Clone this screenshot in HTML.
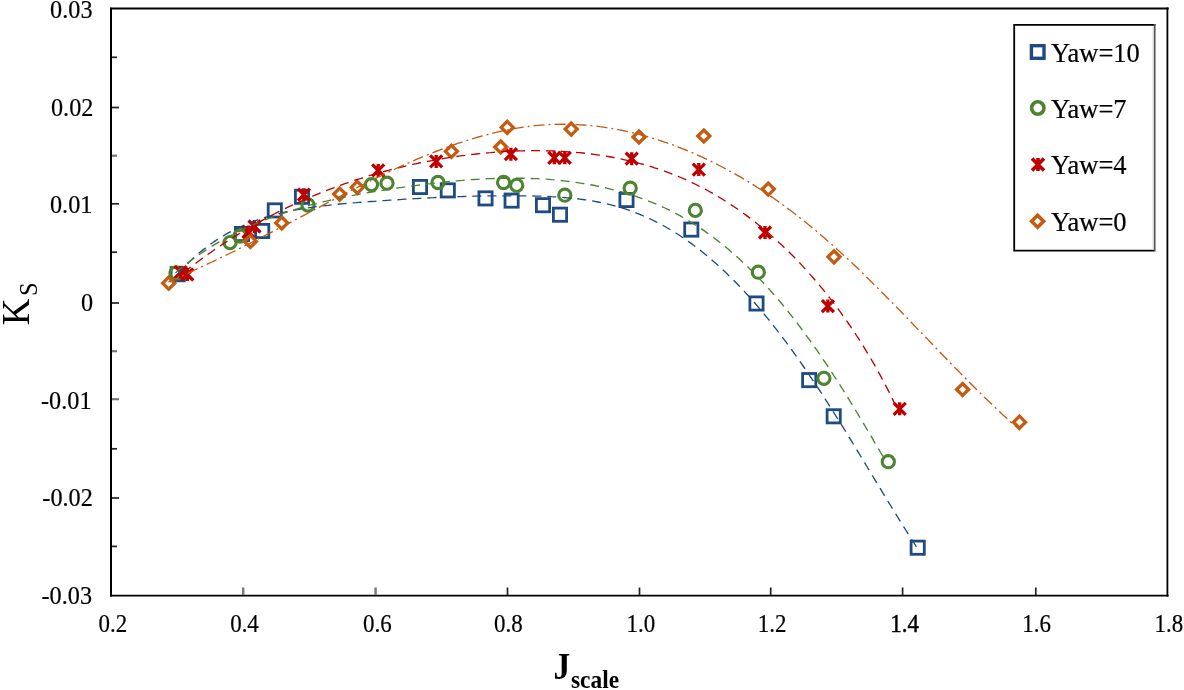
<!DOCTYPE html>
<html><head><meta charset="utf-8"><style>
html,body{margin:0;padding:0;background:#fff;width:1184px;height:690px;overflow:hidden}
svg{display:block;filter:blur(0.4px)}
</style></head><body>
<svg width="1184" height="690" viewBox="0 0 1184 690">
<rect width="1184" height="690" fill="#fff"/>

<g fill="none" stroke="#000">
<line x1="111" y1="7.8" x2="111" y2="596.6" stroke-width="2"/>
<line x1="110" y1="8.5" x2="1168.7" y2="8.5" stroke-width="1.8"/>
<line x1="110" y1="595.6" x2="1168.7" y2="595.6" stroke-width="1.9"/>
<line x1="1167.4" y1="7.6" x2="1167.4" y2="596.5" stroke-width="1.8"/>
</g>
<g stroke="#222" stroke-width="1.7">
<line x1="112" y1="57.3" x2="117" y2="57.3"/>
<line x1="112" y1="107.5" x2="119" y2="107.5"/>
<line x1="112" y1="155.7" x2="117" y2="155.7" stroke="#777" stroke-width="2.2"/>
<line x1="112" y1="203.8" x2="119" y2="203.8"/>
<line x1="112" y1="252.2" x2="117" y2="252.2"/>
<line x1="112" y1="303.0" x2="119" y2="303.0"/>
<line x1="112" y1="351.2" x2="117" y2="351.2" stroke="#777" stroke-width="2.2"/>
<line x1="112" y1="399.2" x2="119" y2="399.2" stroke="#777" stroke-width="2.2"/>
<line x1="112" y1="448.8" x2="117" y2="448.8"/>
<line x1="112" y1="498.0" x2="119" y2="498.0"/>
<line x1="112" y1="546.4" x2="117" y2="546.4"/>
<line x1="243.2" y1="595" x2="243.2" y2="587.5" stroke="#777" stroke-width="2.4"/>
<line x1="375.6" y1="595" x2="375.6" y2="587.5" stroke="#777" stroke-width="2.4"/>
<line x1="507.5" y1="595" x2="507.5" y2="587.5"/>
<line x1="639.5" y1="595" x2="639.5" y2="587.5"/>
<line x1="770.7" y1="595" x2="770.7" y2="587.5"/>
<line x1="902.6" y1="595" x2="902.6" y2="587.5"/>
<line x1="1035.8" y1="595" x2="1035.8" y2="587.5"/>
</g>
<g font-family="Liberation Serif" font-size="25.5" text-anchor="end" fill="#000" stroke="#000" stroke-width="0.2">
<text x="0" y="0" transform="translate(92.5 9.2) scale(0.95 1)" dy="8.6">0.03</text>
<text x="0" y="0" transform="translate(93.4 107.0) scale(0.95 1)" dy="8.6">0.02</text>
<text x="0" y="0" transform="translate(92.4 204.7) scale(0.95 1)" dy="8.6">0.01</text>
<text x="0" y="0" transform="translate(93.0 302.4) scale(0.95 1)" dy="8.6">0</text>
<text x="0" y="0" transform="translate(91.5 400.0) scale(0.95 1)" dy="8.6">-0.01</text>
<text x="0" y="0" transform="translate(92.8 497.8) scale(0.95 1)" dy="8.6">-0.02</text>
<text x="0" y="0" transform="translate(92.0 595.4) scale(0.95 1)" dy="8.6">-0.03</text>
</g>
<g font-family="Liberation Serif" font-size="25.5" text-anchor="middle" fill="#000" stroke="#000" stroke-width="0.2">
<text x="0" y="0" transform="translate(112.8 632) scale(0.9 1)">0.2</text>
<text x="0" y="0" transform="translate(244.5 632) scale(0.9 1)">0.4</text>
<text x="0" y="0" transform="translate(377.4 632) scale(0.9 1)">0.6</text>
<text x="0" y="0" transform="translate(508.4 632) scale(0.9 1)">0.8</text>
<text x="0" y="0" transform="translate(640.9 632) scale(0.9 1)">1.0</text>
<text x="0" y="0" transform="translate(772.2 632) scale(0.9 1)">1.2</text>
<text x="0" y="0" transform="translate(904.6 632) scale(0.9 1)" stroke-width="0.5">1.4</text>
<text x="0" y="0" transform="translate(1036.6 632) scale(0.9 1)">1.6</text>
<text x="0" y="0" transform="translate(1168.9 632) scale(0.9 1)">1.8</text>
</g>
<text font-family="Liberation Serif" font-size="39" transform="translate(28.6 325.3) rotate(-90) scale(0.95 1)">K</text>
<text font-family="Liberation Serif" font-size="24.5" transform="translate(37.2 296) rotate(-90)">S</text>
<text font-family="Liberation Serif" font-size="38" font-weight="bold" transform="translate(553.5 679) scale(0.88 1)">J</text>
<text font-family="Liberation Serif" font-size="26" font-weight="bold" transform="translate(571 688) scale(0.9 1)">scale</text>
<g>
<rect x="171.1" y="267.6" width="13.2" height="13.2" fill="none" stroke="#1e4b80" stroke-width="2.8"/>
<rect x="235.4" y="227.4" width="13.2" height="13.2" fill="none" stroke="#1e4b80" stroke-width="2.8"/>
<rect x="255.6" y="224.4" width="13.2" height="13.2" fill="none" stroke="#1e4b80" stroke-width="2.8"/>
<rect x="268.2" y="203.8" width="13.2" height="13.2" fill="none" stroke="#1e4b80" stroke-width="2.8"/>
<rect x="295.4" y="190.2" width="13.2" height="13.2" fill="none" stroke="#1e4b80" stroke-width="2.8"/>
<rect x="413.4" y="180.4" width="13.2" height="13.2" fill="none" stroke="#1e4b80" stroke-width="2.8"/>
<rect x="441.2" y="183.8" width="13.2" height="13.2" fill="none" stroke="#1e4b80" stroke-width="2.8"/>
<rect x="478.9" y="191.8" width="13.2" height="13.2" fill="none" stroke="#1e4b80" stroke-width="2.8"/>
<rect x="505.0" y="194.0" width="13.2" height="13.2" fill="none" stroke="#1e4b80" stroke-width="2.8"/>
<rect x="536.4" y="198.6" width="13.2" height="13.2" fill="none" stroke="#1e4b80" stroke-width="2.8"/>
<rect x="553.4" y="208.1" width="13.2" height="13.2" fill="none" stroke="#1e4b80" stroke-width="2.8"/>
<rect x="619.9" y="193.4" width="13.2" height="13.2" fill="none" stroke="#1e4b80" stroke-width="2.8"/>
<rect x="684.7" y="223.0" width="13.2" height="13.2" fill="none" stroke="#1e4b80" stroke-width="2.8"/>
<rect x="749.9" y="296.9" width="13.2" height="13.2" fill="none" stroke="#1e4b80" stroke-width="2.8"/>
<rect x="802.6" y="373.5" width="13.2" height="13.2" fill="none" stroke="#1e4b80" stroke-width="2.8"/>
<rect x="827.1" y="409.7" width="13.2" height="13.2" fill="none" stroke="#1e4b80" stroke-width="2.8"/>
<rect x="911.1" y="541.1" width="13.2" height="13.2" fill="none" stroke="#1e4b80" stroke-width="2.8"/>
<circle cx="176.0" cy="273.0" r="6.1" fill="none" stroke="#4c8430" stroke-width="3.1"/>
<circle cx="230.0" cy="242.6" r="6.1" fill="none" stroke="#4c8430" stroke-width="3.1"/>
<circle cx="240.0" cy="236.0" r="6.1" fill="none" stroke="#4c8430" stroke-width="3.1"/>
<circle cx="308.0" cy="205.0" r="6.1" fill="none" stroke="#4c8430" stroke-width="3.1"/>
<circle cx="371.5" cy="184.6" r="6.1" fill="none" stroke="#4c8430" stroke-width="3.1"/>
<circle cx="387.0" cy="183.2" r="6.1" fill="none" stroke="#4c8430" stroke-width="3.1"/>
<circle cx="438.0" cy="182.5" r="6.1" fill="none" stroke="#4c8430" stroke-width="3.1"/>
<circle cx="503.6" cy="182.5" r="6.1" fill="none" stroke="#4c8430" stroke-width="3.1"/>
<circle cx="516.7" cy="185.4" r="6.1" fill="none" stroke="#4c8430" stroke-width="3.1"/>
<circle cx="564.8" cy="195.2" r="6.1" fill="none" stroke="#4c8430" stroke-width="3.1"/>
<circle cx="630.2" cy="188.2" r="6.1" fill="none" stroke="#4c8430" stroke-width="3.1"/>
<circle cx="695.3" cy="210.4" r="6.1" fill="none" stroke="#4c8430" stroke-width="3.1"/>
<circle cx="758.3" cy="272.2" r="6.1" fill="none" stroke="#4c8430" stroke-width="3.1"/>
<circle cx="823.9" cy="378.3" r="6.1" fill="none" stroke="#4c8430" stroke-width="3.1"/>
<circle cx="888.3" cy="461.7" r="6.1" fill="none" stroke="#4c8430" stroke-width="3.1"/>
<path d="M174.8 266.2L186.8 278.2M186.8 266.2L174.8 278.2M180.8 265.7L180.8 278.7" stroke="#c00000" stroke-width="3.3" fill="none"/>
<path d="M181.3 268.5L193.3 280.5M193.3 268.5L181.3 280.5M187.3 268.0L187.3 281.0" stroke="#c00000" stroke-width="3.3" fill="none"/>
<path d="M242.5 226.0L254.5 238.0M254.5 226.0L242.5 238.0M248.5 225.5L248.5 238.5" stroke="#c00000" stroke-width="3.3" fill="none"/>
<path d="M248.5 220.5L260.5 232.5M260.5 220.5L248.5 232.5M254.5 220.0L254.5 233.0" stroke="#c00000" stroke-width="3.3" fill="none"/>
<path d="M297.9 188.7L309.9 200.7M309.9 188.7L297.9 200.7M303.9 188.2L303.9 201.2" stroke="#c00000" stroke-width="3.3" fill="none"/>
<path d="M372.2 164.4L384.2 176.4M384.2 164.4L372.2 176.4M378.2 163.9L378.2 176.9" stroke="#c00000" stroke-width="3.3" fill="none"/>
<path d="M430.2 155.4L442.2 167.4M442.2 155.4L430.2 167.4M436.2 154.9L436.2 167.9" stroke="#c00000" stroke-width="3.3" fill="none"/>
<path d="M504.9 148.2L516.9 160.2M516.9 148.2L504.9 160.2M510.9 147.7L510.9 160.7" stroke="#c00000" stroke-width="3.3" fill="none"/>
<path d="M548.3 151.8L560.3 163.8M560.3 151.8L548.3 163.8M554.3 151.3L554.3 164.3" stroke="#c00000" stroke-width="3.3" fill="none"/>
<path d="M558.8 151.8L570.8 163.8M570.8 151.8L558.8 163.8M564.8 151.3L564.8 164.3" stroke="#c00000" stroke-width="3.3" fill="none"/>
<path d="M625.7 152.7L637.7 164.7M637.7 152.7L625.7 164.7M631.7 152.2L631.7 165.2" stroke="#c00000" stroke-width="3.3" fill="none"/>
<path d="M692.8 163.6L704.8 175.6M704.8 163.6L692.8 175.6M698.8 163.1L698.8 176.1" stroke="#c00000" stroke-width="3.3" fill="none"/>
<path d="M759.0 226.5L771.0 238.5M771.0 226.5L759.0 238.5M765.0 226.0L765.0 239.0" stroke="#c00000" stroke-width="3.3" fill="none"/>
<path d="M821.9 300.1L833.9 312.1M833.9 300.1L821.9 312.1M827.9 299.6L827.9 312.6" stroke="#c00000" stroke-width="3.3" fill="none"/>
<path d="M893.7 402.8L905.7 414.8M905.7 402.8L893.7 414.8M899.7 402.3L899.7 415.3" stroke="#c00000" stroke-width="3.3" fill="none"/>
<path d="M168.7 277.2L174.7 283.2L168.7 289.2L162.7 283.2Z" fill="none" stroke="#c55a11" stroke-width="3.3" stroke-linejoin="miter"/>
<path d="M250.4 235.4L256.4 241.4L250.4 247.4L244.4 241.4Z" fill="none" stroke="#c55a11" stroke-width="3.3" stroke-linejoin="miter"/>
<path d="M281.7 217.0L287.7 223.0L281.7 229.0L275.7 223.0Z" fill="none" stroke="#c55a11" stroke-width="3.3" stroke-linejoin="miter"/>
<path d="M339.7 188.1L345.7 194.1L339.7 200.1L333.7 194.1Z" fill="none" stroke="#c55a11" stroke-width="3.3" stroke-linejoin="miter"/>
<path d="M357.3 181.3L363.3 187.3L357.3 193.3L351.3 187.3Z" fill="none" stroke="#c55a11" stroke-width="3.3" stroke-linejoin="miter"/>
<path d="M451.4 145.3L457.4 151.3L451.4 157.3L445.4 151.3Z" fill="none" stroke="#c55a11" stroke-width="3.3" stroke-linejoin="miter"/>
<path d="M500.7 141.0L506.7 147.0L500.7 153.0L494.7 147.0Z" fill="none" stroke="#c55a11" stroke-width="3.3" stroke-linejoin="miter"/>
<path d="M507.2 121.4L513.2 127.4L507.2 133.4L501.2 127.4Z" fill="none" stroke="#c55a11" stroke-width="3.3" stroke-linejoin="miter"/>
<path d="M571.2 123.1L577.2 129.1L571.2 135.1L565.2 129.1Z" fill="none" stroke="#c55a11" stroke-width="3.3" stroke-linejoin="miter"/>
<path d="M639.0 131.0L645.0 137.0L639.0 143.0L633.0 137.0Z" fill="none" stroke="#c55a11" stroke-width="3.3" stroke-linejoin="miter"/>
<path d="M703.8 130.0L709.8 136.0L703.8 142.0L697.8 136.0Z" fill="none" stroke="#c55a11" stroke-width="3.3" stroke-linejoin="miter"/>
<path d="M768.3 183.1L774.3 189.1L768.3 195.1L762.3 189.1Z" fill="none" stroke="#c55a11" stroke-width="3.3" stroke-linejoin="miter"/>
<path d="M834.0 250.8L840.0 256.8L834.0 262.8L828.0 256.8Z" fill="none" stroke="#c55a11" stroke-width="3.3" stroke-linejoin="miter"/>
<path d="M962.6 383.5L968.6 389.5L962.6 395.5L956.6 389.5Z" fill="none" stroke="#c55a11" stroke-width="3.3" stroke-linejoin="miter"/>
<path d="M1019.5 416.2L1025.5 422.2L1019.5 428.2L1013.5 422.2Z" fill="none" stroke="#c55a11" stroke-width="3.3" stroke-linejoin="miter"/>
</g>
<g fill="none" stroke-width="1.35">
<path d="M177.5 274.7 L179.6 272.2 L181.8 269.8 L184.0 267.4 L186.2 265.1 L188.5 262.8 L190.8 260.5 L193.1 258.3 L195.5 256.2 L197.8 254.1 L200.2 252.1 L202.7 250.1 L205.1 248.2 L207.6 246.3 L210.1 244.5 L212.7 242.7 L215.2 240.9 L217.8 239.2 L220.4 237.6 L223.1 236.0 L225.7 234.4 L228.4 232.9 L231.1 231.5 L233.8 230.1 L236.5 228.7 L239.3 227.4 L242.1 226.1 L244.9 224.9 L247.7 223.7 L250.5 222.5 L253.3 221.4 L256.2 220.4 L259.1 219.4 L262.0 218.4 L264.9 217.5 L267.8 216.6 L270.7 215.7 L273.7 214.9 L276.6 214.1 L279.6 213.4 L282.6 212.7 L285.6 212.0 L288.6 211.4 L291.6 210.7 L294.6 210.1 L297.6 209.6 L300.6 209.0 L303.7 208.5 L306.7 208.1 L309.8 207.6 L312.9 207.2 L315.9 206.7 L319.0 206.3 L322.1 206.0 L325.2 205.6 L328.3 205.3 L331.4 204.9 L334.4 204.6 L337.5 204.3 L340.6 204.0 L343.7 203.7 L346.8 203.5 L349.9 203.2 L353.0 202.9 L356.1 202.7 L359.2 202.4 L362.3 202.2 L365.4 202.0 L368.5 201.7 L371.6 201.5 L374.7 201.3 L377.8 201.0 L380.8 200.8 L383.9 200.6 L387.0 200.4 L390.1 200.2 L393.2 200.0 L396.2 199.8 L399.3 199.6 L402.4 199.4 L405.5 199.2 L408.5 199.0 L411.6 198.8 L414.7 198.6 L417.8 198.5 L420.8 198.3 L423.9 198.1 L427.0 198.0 L430.1 197.8 L433.1 197.7 L436.2 197.5 L439.3 197.4 L442.4 197.3 L445.5 197.1 L448.5 197.0 L451.6 196.9 L454.7 196.8 L457.8 196.7 L460.9 196.6 L464.0 196.5 L467.1 196.4 L470.2 196.3 L473.3 196.2 L476.4 196.1 L479.5 196.1 L482.6 196.0 L485.7 196.0 L488.8 195.9 L491.9 195.9 L495.0 195.8 L498.2 195.8 L501.3 195.8 L504.4 195.8 L507.5 195.8 L510.7 195.8 L513.8 195.8 L517.0 195.8 L520.1 195.8 L523.3 195.8 L526.4 195.9 L529.6 195.9 L532.7 196.0 L535.9 196.1 L539.0 196.1 L542.2 196.2 L545.3 196.4 L548.5 196.5 L551.6 196.7 L554.8 196.8 L557.9 197.0 L561.0 197.3 L564.1 197.5 L567.3 197.8 L570.4 198.1 L573.5 198.4 L576.6 198.7 L579.7 199.1 L582.7 199.5 L585.8 199.9 L588.9 200.4 L591.9 200.9 L594.9 201.4 L598.0 202.0 L601.0 202.6 L604.0 203.2 L607.0 203.9 L609.9 204.6 L612.9 205.3 L615.8 206.1 L618.7 206.9 L621.6 207.8 L624.5 208.7 L627.4 209.7 L630.2 210.7 L633.0 211.7 L635.8 212.8 L638.6 213.9 L641.4 215.0 L644.2 216.2 L646.9 217.4 L649.7 218.7 L652.4 220.0 L655.1 221.3 L657.7 222.7 L660.4 224.1 L663.1 225.5 L665.7 227.0 L668.3 228.5 L670.9 230.0 L673.5 231.6 L676.1 233.2 L678.6 234.8 L681.1 236.5 L683.7 238.2 L686.2 239.9 L688.7 241.7 L691.1 243.4 L693.6 245.2 L696.0 247.1 L698.5 248.9 L700.9 250.8 L703.3 252.7 L705.7 254.7 L708.0 256.7 L710.4 258.6 L712.7 260.7 L715.1 262.7 L717.4 264.8 L719.7 266.8 L722.0 269.0 L724.2 271.1 L726.5 273.2 L728.7 275.4 L731.0 277.6 L733.2 279.8 L735.4 282.0 L737.6 284.3 L739.7 286.5 L741.9 288.8 L744.1 291.1 L746.2 293.4 L748.3 295.8 L750.4 298.1 L752.5 300.5 L754.6 302.8 L756.7 305.2 L758.7 307.6 L760.8 310.1 L762.8 312.5 L764.8 314.9 L766.8 317.4 L768.8 319.8 L770.8 322.3 L772.8 324.8 L774.8 327.3 L776.7 329.8 L778.6 332.3 L780.6 334.8 L782.5 337.3 L784.4 339.9 L786.3 342.4 L788.1 345.0 L790.0 347.5 L791.9 350.1 L793.7 352.6 L795.5 355.2 L797.4 357.7 L799.2 360.3 L801.0 362.9 L802.8 365.5 L804.5 368.0 L806.3 370.6 L808.1 373.2 L809.8 375.8 L811.5 378.3 L813.3 380.9 L815.0 383.5 L816.7 386.1 L818.4 388.6 L820.1 391.2 L821.8 393.8 L823.5 396.4 L825.1 399.0 L826.8 401.5 L828.4 404.1 L830.1 406.7 L831.7 409.3 L833.4 411.9 L835.0 414.5 L836.6 417.1 L838.2 419.6 L839.9 422.2 L841.5 424.8 L843.1 427.4 L844.7 430.0 L846.3 432.6 L847.9 435.2 L849.5 437.8 L851.1 440.4 L852.7 443.0 L854.2 445.6 L855.8 448.2 L857.4 450.8 L859.0 453.4 L860.6 456.0 L862.2 458.6 L863.7 461.3 L865.3 463.9 L866.9 466.5 L868.5 469.1 L870.1 471.7 L871.6 474.4 L873.2 477.0 L874.8 479.6 L876.4 482.2 L878.0 484.9 L879.6 487.5 L881.2 490.1 L882.8 492.8 L884.4 495.4 L886.0 498.1 L887.6 500.7 L889.2 503.4 L890.9 506.0 L892.5 508.7 L894.1 511.3 L895.8 514.0 L897.4 516.7 L899.1 519.3 L900.7 522.0 L902.4 524.7 L904.1 527.4 L905.7 530.0 L907.4 532.7 L909.1 535.4 L910.8 538.1 L912.6 540.8 L914.3 543.5 L916.0 546.2 L917.8 548.9" stroke="#1e4b80" stroke-dasharray="9 6"/>
<path d="M175.4 273.0 L177.6 271.0 L179.9 269.1 L182.3 267.2 L184.6 265.4 L186.9 263.5 L189.3 261.7 L191.6 260.0 L194.0 258.2 L196.4 256.5 L198.8 254.9 L201.2 253.2 L203.6 251.6 L206.0 250.0 L208.5 248.4 L210.9 246.9 L213.4 245.4 L215.8 243.9 L218.3 242.4 L220.8 241.0 L223.3 239.6 L225.8 238.2 L228.3 236.8 L230.8 235.5 L233.3 234.2 L235.9 232.9 L238.4 231.6 L241.0 230.4 L243.5 229.1 L246.1 228.0 L248.7 226.8 L251.3 225.6 L253.9 224.5 L256.5 223.4 L259.1 222.3 L261.7 221.2 L264.3 220.2 L267.0 219.2 L269.6 218.2 L272.3 217.2 L274.9 216.2 L277.6 215.2 L280.2 214.3 L282.9 213.4 L285.6 212.5 L288.3 211.6 L291.0 210.8 L293.7 209.9 L296.4 209.1 L299.1 208.3 L301.8 207.5 L304.5 206.7 L307.3 206.0 L310.0 205.2 L312.8 204.5 L315.5 203.8 L318.3 203.1 L321.0 202.4 L323.8 201.7 L326.5 201.1 L329.3 200.4 L332.1 199.8 L334.9 199.2 L337.6 198.6 L340.4 198.0 L343.2 197.4 L346.0 196.8 L348.8 196.3 L351.6 195.7 L354.4 195.2 L357.2 194.7 L360.1 194.1 L362.9 193.6 L365.7 193.1 L368.5 192.6 L371.3 192.2 L374.2 191.7 L377.0 191.2 L379.8 190.8 L382.7 190.3 L385.5 189.9 L388.3 189.4 L391.2 189.0 L394.0 188.6 L396.9 188.2 L399.7 187.7 L402.6 187.3 L405.4 186.9 L408.3 186.5 L411.1 186.1 L414.0 185.8 L416.8 185.4 L419.7 185.0 L422.5 184.6 L425.4 184.3 L428.2 183.9 L431.1 183.6 L434.0 183.2 L436.8 182.9 L439.7 182.6 L442.6 182.3 L445.4 182.0 L448.3 181.7 L451.1 181.4 L454.0 181.1 L456.9 180.9 L459.7 180.6 L462.6 180.4 L465.5 180.1 L468.4 179.9 L471.2 179.7 L474.1 179.5 L477.0 179.3 L479.9 179.1 L482.7 179.0 L485.6 178.8 L488.5 178.7 L491.4 178.6 L494.2 178.5 L497.1 178.4 L500.0 178.3 L502.9 178.2 L505.7 178.2 L508.6 178.1 L511.5 178.1 L514.4 178.1 L517.3 178.1 L520.1 178.2 L523.0 178.2 L525.9 178.3 L528.8 178.4 L531.7 178.5 L534.6 178.6 L537.4 178.7 L540.3 178.9 L543.2 179.0 L546.1 179.2 L549.0 179.4 L551.8 179.7 L554.7 179.9 L557.6 180.2 L560.5 180.5 L563.3 180.8 L566.2 181.1 L569.1 181.5 L571.9 181.8 L574.8 182.2 L577.6 182.6 L580.5 183.1 L583.3 183.5 L586.2 184.0 L589.0 184.5 L591.8 185.0 L594.7 185.5 L597.5 186.1 L600.3 186.7 L603.1 187.3 L605.9 187.9 L608.7 188.6 L611.5 189.3 L614.2 190.0 L617.0 190.7 L619.7 191.4 L622.5 192.2 L625.2 193.0 L627.9 193.8 L630.7 194.7 L633.4 195.5 L636.0 196.4 L638.7 197.3 L641.4 198.3 L644.1 199.3 L646.7 200.3 L649.3 201.3 L652.0 202.3 L654.6 203.4 L657.2 204.5 L659.7 205.6 L662.3 206.8 L664.9 208.0 L667.4 209.2 L669.9 210.4 L672.4 211.7 L674.9 213.0 L677.4 214.3 L679.9 215.6 L682.3 217.0 L684.7 218.4 L687.2 219.8 L689.6 221.3 L692.0 222.7 L694.3 224.2 L696.7 225.8 L699.0 227.3 L701.4 228.9 L703.7 230.4 L706.0 232.1 L708.3 233.7 L710.6 235.3 L712.9 237.0 L715.1 238.7 L717.3 240.4 L719.6 242.2 L721.8 243.9 L724.0 245.7 L726.2 247.5 L728.4 249.3 L730.5 251.2 L732.7 253.0 L734.8 254.9 L736.9 256.8 L739.0 258.7 L741.1 260.7 L743.2 262.6 L745.3 264.6 L747.4 266.5 L749.4 268.5 L751.5 270.6 L753.5 272.6 L755.5 274.6 L757.5 276.7 L759.5 278.8 L761.5 280.9 L763.5 283.0 L765.4 285.1 L767.4 287.2 L769.3 289.4 L771.2 291.5 L773.1 293.7 L775.0 295.9 L776.9 298.1 L778.8 300.3 L780.7 302.5 L782.6 304.8 L784.4 307.0 L786.2 309.3 L788.1 311.5 L789.9 313.8 L791.7 316.1 L793.5 318.4 L795.3 320.7 L797.1 323.0 L798.8 325.3 L800.6 327.7 L802.3 330.0 L804.1 332.3 L805.8 334.7 L807.5 337.1 L809.2 339.4 L810.9 341.8 L812.6 344.2 L814.3 346.6 L816.0 348.9 L817.7 351.3 L819.3 353.7 L821.0 356.1 L822.6 358.6 L824.2 361.0 L825.9 363.4 L827.5 365.8 L829.1 368.2 L830.7 370.7 L832.3 373.1 L833.8 375.5 L835.4 377.9 L837.0 380.4 L838.5 382.8 L840.1 385.2 L841.6 387.7 L843.2 390.1 L844.7 392.5 L846.2 395.0 L847.7 397.4 L849.2 399.9 L850.7 402.3 L852.2 404.7 L853.7 407.1 L855.2 409.6 L856.6 412.0 L858.1 414.4 L859.5 416.8 L861.0 419.2 L862.4 421.7 L863.9 424.1 L865.3 426.5 L866.7 428.9 L868.1 431.3 L869.6 433.6 L871.0 436.0 L872.4 438.4 L873.7 440.8 L875.1 443.1 L876.5 445.5 L877.9 447.8 L879.3 450.2 L880.6 452.5 L882.0 454.8 L883.3 457.1 L884.7 459.5 L886.0 461.8" stroke="#4c8430" stroke-dasharray="9 6"/>
<path d="M183.7 272.7 L185.9 270.9 L188.1 269.2 L190.4 267.4 L192.7 265.6 L194.9 263.9 L197.2 262.2 L199.5 260.5 L201.8 258.8 L204.1 257.1 L206.4 255.5 L208.7 253.8 L211.0 252.2 L213.4 250.5 L215.7 248.9 L218.1 247.3 L220.4 245.7 L222.8 244.1 L225.2 242.6 L227.6 241.0 L230.0 239.5 L232.4 238.0 L234.8 236.4 L237.2 234.9 L239.6 233.5 L242.0 232.0 L244.5 230.5 L246.9 229.1 L249.4 227.6 L251.8 226.2 L254.3 224.8 L256.8 223.4 L259.3 222.0 L261.8 220.7 L264.3 219.3 L266.8 218.0 L269.3 216.6 L271.8 215.3 L274.3 214.0 L276.9 212.7 L279.4 211.4 L281.9 210.2 L284.5 208.9 L287.0 207.7 L289.6 206.4 L292.2 205.2 L294.8 204.0 L297.4 202.8 L299.9 201.7 L302.5 200.5 L305.1 199.3 L307.8 198.2 L310.4 197.1 L313.0 196.0 L315.6 194.9 L318.3 193.8 L320.9 192.7 L323.5 191.7 L326.2 190.6 L328.8 189.6 L331.5 188.6 L334.2 187.6 L336.9 186.6 L339.5 185.6 L342.2 184.6 L344.9 183.7 L347.6 182.8 L350.3 181.8 L353.0 180.9 L355.7 180.0 L358.4 179.1 L361.2 178.3 L363.9 177.4 L366.6 176.6 L369.3 175.7 L372.1 174.9 L374.8 174.1 L377.6 173.3 L380.3 172.5 L383.1 171.8 L385.8 171.0 L388.6 170.3 L391.4 169.5 L394.2 168.8 L396.9 168.1 L399.7 167.5 L402.5 166.8 L405.3 166.1 L408.1 165.5 L410.9 164.8 L413.7 164.2 L416.5 163.6 L419.3 163.0 L422.1 162.4 L425.0 161.9 L427.8 161.3 L430.6 160.8 L433.4 160.3 L436.3 159.7 L439.1 159.2 L441.9 158.8 L444.8 158.3 L447.6 157.8 L450.5 157.4 L453.3 157.0 L456.2 156.5 L459.0 156.1 L461.9 155.7 L464.8 155.4 L467.6 155.0 L470.5 154.6 L473.4 154.3 L476.2 154.0 L479.1 153.7 L482.0 153.4 L484.9 153.1 L487.8 152.8 L490.6 152.6 L493.5 152.3 L496.4 152.1 L499.3 151.9 L502.2 151.7 L505.1 151.5 L508.0 151.4 L510.9 151.2 L513.7 151.1 L516.6 151.0 L519.5 150.9 L522.4 150.8 L525.3 150.7 L528.2 150.7 L531.1 150.6 L534.0 150.6 L536.8 150.6 L539.7 150.6 L542.6 150.7 L545.5 150.7 L548.4 150.8 L551.2 150.9 L554.1 151.0 L557.0 151.1 L559.9 151.2 L562.7 151.4 L565.6 151.6 L568.4 151.8 L571.3 152.0 L574.1 152.2 L577.0 152.5 L579.8 152.7 L582.7 153.0 L585.5 153.3 L588.3 153.7 L591.2 154.0 L594.0 154.4 L596.8 154.8 L599.6 155.2 L602.4 155.6 L605.2 156.0 L608.0 156.5 L610.8 157.0 L613.6 157.5 L616.4 158.0 L619.2 158.6 L621.9 159.2 L624.7 159.8 L627.4 160.4 L630.2 161.0 L632.9 161.7 L635.6 162.4 L638.4 163.1 L641.1 163.8 L643.8 164.5 L646.5 165.3 L649.2 166.1 L651.9 166.9 L654.5 167.8 L657.2 168.6 L659.9 169.5 L662.5 170.4 L665.1 171.4 L667.8 172.3 L670.4 173.3 L673.0 174.3 L675.6 175.4 L678.2 176.4 L680.8 177.5 L683.3 178.6 L685.9 179.7 L688.4 180.9 L691.0 182.1 L693.5 183.3 L696.0 184.5 L698.5 185.8 L701.0 187.0 L703.5 188.3 L706.0 189.7 L708.4 191.0 L710.9 192.4 L713.3 193.7 L715.7 195.2 L718.1 196.6 L720.6 198.0 L722.9 199.5 L725.3 201.0 L727.7 202.5 L730.1 204.1 L732.4 205.6 L734.8 207.2 L737.1 208.8 L739.4 210.4 L741.7 212.0 L744.0 213.7 L746.3 215.4 L748.6 217.1 L750.8 218.8 L753.1 220.5 L755.3 222.3 L757.5 224.0 L759.7 225.8 L761.9 227.6 L764.1 229.4 L766.3 231.3 L768.5 233.1 L770.6 235.0 L772.8 236.9 L774.9 238.8 L777.0 240.7 L779.1 242.7 L781.2 244.6 L783.3 246.6 L785.4 248.6 L787.5 250.6 L789.5 252.6 L791.5 254.6 L793.6 256.6 L795.6 258.7 L797.6 260.8 L799.6 262.8 L801.5 264.9 L803.5 267.1 L805.4 269.2 L807.4 271.3 L809.3 273.5 L811.2 275.6 L813.1 277.8 L815.0 280.0 L816.9 282.2 L818.8 284.4 L820.6 286.6 L822.5 288.9 L824.3 291.1 L826.1 293.4 L827.9 295.6 L829.7 297.9 L831.5 300.2 L833.2 302.5 L835.0 304.8 L836.7 307.1 L838.4 309.4 L840.1 311.7 L841.8 314.1 L843.5 316.4 L845.2 318.8 L846.9 321.2 L848.5 323.5 L850.1 325.9 L851.8 328.3 L853.4 330.7 L855.0 333.1 L856.5 335.5 L858.1 337.9 L859.7 340.4 L861.2 342.8 L862.7 345.2 L864.2 347.7 L865.7 350.1 L867.2 352.6 L868.7 355.0 L870.2 357.5 L871.6 360.0 L873.0 362.4 L874.5 364.9 L875.9 367.4 L877.3 369.9 L878.6 372.4 L880.0 374.9 L881.4 377.4 L882.7 379.9 L884.0 382.4 L885.3 384.9 L886.6 387.4 L887.9 389.9 L889.2 392.4 L890.4 394.9 L891.7 397.4 L892.9 399.9 L894.1 402.5 L895.3 405.0 L896.5 407.5 L897.6 410.0" stroke="#c00000" stroke-dasharray="9 6"/>
<path d="M168.4 281.8 L171.5 280.5 L174.6 279.1 L177.7 277.8 L180.7 276.4 L183.8 275.0 L186.8 273.7 L189.9 272.3 L192.9 270.9 L195.9 269.5 L198.9 268.1 L201.9 266.7 L204.9 265.3 L207.8 263.9 L210.8 262.5 L213.8 261.1 L216.7 259.7 L219.7 258.2 L222.6 256.8 L225.6 255.4 L228.5 254.0 L231.4 252.5 L234.4 251.1 L237.3 249.6 L240.2 248.2 L243.1 246.7 L246.0 245.2 L248.9 243.8 L251.9 242.3 L254.8 240.8 L257.7 239.3 L260.6 237.9 L263.5 236.4 L266.4 234.9 L269.3 233.4 L272.2 231.9 L275.1 230.4 L278.0 228.8 L280.9 227.3 L283.8 225.8 L286.8 224.3 L289.7 222.8 L292.6 221.2 L295.5 219.7 L298.5 218.2 L301.4 216.6 L304.3 215.1 L307.3 213.5 L310.2 211.9 L313.2 210.4 L316.2 208.8 L319.1 207.3 L322.1 205.7 L325.1 204.1 L328.1 202.6 L331.1 201.0 L334.1 199.4 L337.1 197.8 L340.1 196.3 L343.1 194.7 L346.1 193.1 L349.1 191.6 L352.2 190.0 L355.2 188.5 L358.3 186.9 L361.3 185.4 L364.4 183.9 L367.4 182.3 L370.5 180.8 L373.5 179.3 L376.6 177.8 L379.7 176.3 L382.8 174.8 L385.8 173.3 L388.9 171.9 L392.0 170.4 L395.1 169.0 L398.2 167.5 L401.3 166.1 L404.4 164.7 L407.6 163.3 L410.7 161.9 L413.8 160.6 L416.9 159.2 L420.1 157.9 L423.2 156.6 L426.3 155.3 L429.5 154.0 L432.6 152.8 L435.8 151.5 L438.9 150.3 L442.1 149.1 L445.2 147.9 L448.4 146.8 L451.6 145.6 L454.7 144.5 L457.9 143.4 L461.1 142.4 L464.3 141.3 L467.4 140.3 L470.6 139.3 L473.8 138.3 L477.0 137.4 L480.2 136.5 L483.4 135.6 L486.6 134.8 L489.8 133.9 L493.0 133.1 L496.2 132.4 L499.4 131.6 L502.6 130.9 L505.9 130.3 L509.1 129.6 L512.3 129.0 L515.5 128.4 L518.8 127.9 L522.0 127.4 L525.2 126.9 L528.4 126.5 L531.7 126.1 L534.9 125.7 L538.1 125.4 L541.4 125.1 L544.6 124.9 L547.9 124.6 L551.1 124.5 L554.4 124.4 L557.6 124.3 L560.8 124.2 L564.1 124.2 L567.3 124.2 L570.6 124.3 L573.8 124.4 L577.1 124.6 L580.3 124.8 L583.6 125.0 L586.8 125.2 L590.1 125.5 L593.3 125.9 L596.6 126.2 L599.8 126.7 L603.1 127.1 L606.3 127.6 L609.5 128.1 L612.8 128.6 L616.0 129.2 L619.2 129.8 L622.5 130.5 L625.7 131.2 L628.9 131.9 L632.1 132.6 L635.3 133.4 L638.5 134.2 L641.7 135.1 L644.9 136.0 L648.1 136.9 L651.3 137.8 L654.4 138.8 L657.6 139.8 L660.8 140.8 L663.9 141.9 L667.1 142.9 L670.2 144.1 L673.4 145.2 L676.5 146.4 L679.6 147.6 L682.7 148.8 L685.8 150.0 L688.9 151.3 L692.0 152.6 L695.1 154.0 L698.1 155.3 L701.2 156.7 L704.2 158.1 L707.3 159.5 L710.3 161.0 L713.3 162.5 L716.3 164.0 L719.3 165.5 L722.3 167.0 L725.2 168.6 L728.2 170.2 L731.1 171.8 L734.1 173.4 L737.0 175.1 L739.9 176.7 L742.8 178.4 L745.7 180.2 L748.5 181.9 L751.4 183.6 L754.2 185.4 L757.0 187.2 L759.8 189.0 L762.6 190.8 L765.4 192.7 L768.2 194.5 L770.9 196.4 L773.7 198.3 L776.4 200.2 L779.1 202.1 L781.8 204.1 L784.5 206.0 L787.1 208.0 L789.8 210.0 L792.4 212.0 L795.1 214.0 L797.7 216.0 L800.3 218.1 L802.9 220.1 L805.5 222.2 L808.1 224.3 L810.6 226.4 L813.2 228.5 L815.7 230.6 L818.3 232.8 L820.8 234.9 L823.3 237.1 L825.8 239.2 L828.3 241.4 L830.8 243.6 L833.3 245.8 L835.7 248.0 L838.2 250.2 L840.6 252.5 L843.1 254.7 L845.5 257.0 L848.0 259.2 L850.4 261.5 L852.8 263.8 L855.2 266.0 L857.6 268.3 L860.0 270.6 L862.4 272.9 L864.8 275.3 L867.1 277.6 L869.5 279.9 L871.9 282.2 L874.2 284.6 L876.6 286.9 L879.0 289.3 L881.3 291.6 L883.6 294.0 L886.0 296.4 L888.3 298.7 L890.7 301.1 L893.0 303.5 L895.3 305.9 L897.6 308.2 L900.0 310.6 L902.3 313.0 L904.6 315.4 L906.9 317.8 L909.2 320.2 L911.5 322.6 L913.8 325.0 L916.1 327.4 L918.5 329.8 L920.8 332.2 L923.1 334.6 L925.4 337.0 L927.7 339.4 L930.0 341.8 L932.3 344.2 L934.6 346.6 L936.9 349.0 L939.2 351.4 L941.5 353.8 L943.8 356.2 L946.2 358.6 L948.5 361.0 L950.8 363.4 L953.1 365.8 L955.4 368.2 L957.8 370.5 L960.1 372.9 L962.4 375.3 L964.8 377.6 L967.1 380.0 L969.5 382.4 L971.8 384.7 L974.2 387.1 L976.5 389.4 L978.9 391.7 L981.2 394.1 L983.6 396.4 L986.0 398.7 L988.4 401.0 L990.8 403.3 L993.2 405.6 L995.6 407.9 L998.0 410.1 L1000.4 412.4 L1002.8 414.7 L1005.3 416.9 L1007.7 419.2 L1010.1 421.4 L1012.6 423.6 L1015.1 425.8 L1017.5 428.0 L1020.0 430.2" stroke="#c55a11" stroke-dasharray="11 4 2 4"/>
</g>
<rect x="1014.2" y="24.8" width="140.4" height="226" fill="#fff" stroke="none"/>
<path d="M1155.4 24.8 L1014.2 24.8 L1014.2 250.6 L1154.6 250.6" fill="none" stroke="#000" stroke-width="1.8"/>
<line x1="1154.7" y1="24" x2="1154.7" y2="251.4" stroke="#555" stroke-width="1.7"/>
<line x1="1153.2" y1="26" x2="1153.2" y2="249.6" stroke="#ccc" stroke-width="1"/>
<rect x="1031.4" y="45.7" width="12.6" height="12.6" fill="none" stroke="#1e4b80" stroke-width="3.4"/>
<circle cx="1037.8" cy="108.0" r="6.2" fill="none" stroke="#4c8430" stroke-width="3.6"/>
<path d="M1032.0 158.5L1044.0 170.5M1044.0 158.5L1032.0 170.5M1038.0 158.0L1038.0 171.0" stroke="#c00000" stroke-width="3.6" fill="none"/>
<path d="M1037.6 215.3L1043.6 221.3L1037.6 227.3L1031.6 221.3Z" fill="none" stroke="#c55a11" stroke-width="3.6" stroke-linejoin="miter"/>
<g font-family="Liberation Serif" font-size="26.5" fill="#000" stroke="#000" stroke-width="0.2">
<text x="0" y="0" transform="translate(1051 61.5) scale(1.0 1)">Yaw=10</text>
<text x="0" y="0" transform="translate(1051 117.5) scale(1.0 1)">Yaw=7</text>
<text x="0" y="0" transform="translate(1051 174.0) scale(1.0 1)">Yaw=4</text>
<text x="0" y="0" transform="translate(1051 230.8) scale(1.0 1)">Yaw=0</text>
</g>
</svg></body></html>
